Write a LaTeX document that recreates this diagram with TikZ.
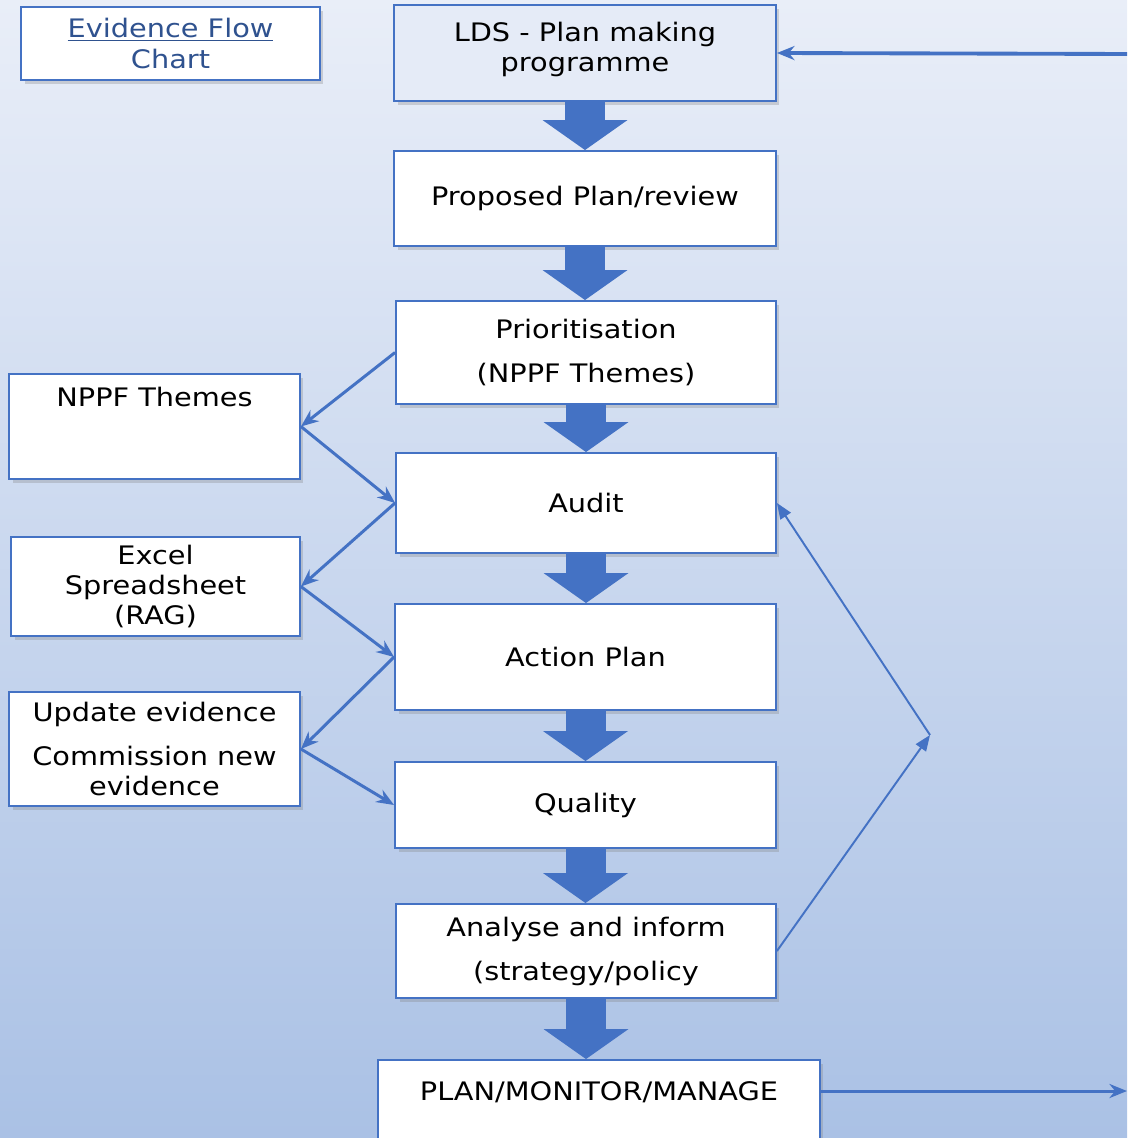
\documentclass[tikz,border=0pt]{standalone}
\usepackage{fontspec}
\setmainfont[FakeStretch=1.13]{DejaVu Sans}
\usetikzlibrary{arrows.meta,shadows}
\definecolor{boxblue}{RGB}{68,114,196}
\definecolor{bgtop}{RGB}{233,238,248}
\definecolor{bgbottom}{RGB}{170,193,229}
\definecolor{titleblue}{RGB}{47,82,143}
\definecolor{ldsfill}{RGB}{229,235,247}

\begin{document}
\begin{tikzpicture}[x=0.02cm, y=-0.02cm,
    every node/.style={font=\fontsize{14.5}{17}\selectfont},
    flowbox/.style={draw=boxblue, line width=1.1pt, fill=white, align=center, inner sep=2pt,
      drop shadow={shadow xshift=2pt, shadow yshift=-2pt, opacity=.3}},
    bigarrow/.style={draw=boxblue, line width=0.8cm, -{Triangle[width=1.7cm, length=0.6cm, line width=0pt]}},
    link/.style={draw=boxblue, line width=1.7pt, -{Stealth[length=10pt, width=8pt]}},
    feedback/.style={draw=boxblue, line width=1.1pt, -{Triangle[length=9pt, width=7pt]}}]
    \clip (0,0) rectangle (1127,1138);
    \shade[top color=bgtop, bottom color=bgbottom] (0,0) rectangle (1127,1138);

    % main column
    \node[flowbox, text=titleblue, minimum width=5.98cm, minimum height=1.46cm] (title) at (170.5,43.5) {\underline{Evidence Flow}\\[1pt]Chart};
    \node[flowbox, fill=ldsfill, minimum width=7.64cm, minimum height=1.92cm] (lds) at (585,53) {LDS - Plan making\\programme\\[-10pt]\mbox{}};
    \node[flowbox, minimum width=7.64cm, minimum height=1.9cm] (prop) at (585,198.5) {Proposed Plan/review};
    \node[flowbox, minimum width=7.6cm, minimum height=2.06cm] (prio) at (586,352.5) {Prioritisation\\[8pt](NPPF Themes)};
    \node[flowbox, minimum width=7.6cm, minimum height=2cm] (audit) at (586,503) {Audit};
    \node[flowbox, minimum width=7.62cm, minimum height=2.12cm] (act) at (585.5,657) {Action Plan};
    \node[flowbox, minimum width=7.62cm, minimum height=1.72cm] (qual) at (585.5,805) {Quality};
    \node[flowbox, minimum width=7.6cm, minimum height=1.88cm] (anal) at (586,951) {Analyse and inform\\[8pt](strategy/policy};
    \node[flowbox, minimum width=8.84cm, minimum height=1.84cm] (plan) at (599,1106) {PLAN/MONITOR/MANAGE\\\mbox{}};

    % evidence boxes
    \node[flowbox, minimum width=5.82cm, minimum height=2.1cm] (nppf) at (154.5,426.5) {NPPF Themes\\\mbox{}\\\mbox{}};
    \node[flowbox, minimum width=5.78cm, minimum height=1.98cm] (excel) at (155.5,586.5) {Excel\\Spreadsheet\\(RAG)};
    \node[flowbox, minimum width=5.82cm, minimum height=2.28cm] (upd) at (154.5,749) {Update evidence\\[8pt]Commission new\\evidence};

    \coordinate (fb) at (930,735);
    \coordinate (topin) at (1127,54);
    \coordinate (botout) at (1127,1091);

    \foreach \a/\b in {lds/prop, prop/prio, prio/audit, audit/act, act/qual, qual/anal, anal/plan}
      \draw[bigarrow] (\a.south) -- (\a.south |- \b.north);

    \draw[link] (prio.west) -- (nppf.east);
    \draw[link] (nppf.east) -- (audit.west);
    \draw[link] (audit.west) -- (excel.east);
    \draw[link] (excel.east) -- (act.west);
    \draw[link] (act.west) -- (upd.east);
    \draw[link] (upd.east) -- (qual.west);
    \draw[feedback] (anal.east) -- (fb);
    \draw[feedback] (fb) -- (audit.east);
    \draw[link, line width=2.2pt] (topin) -- (lds.east);
    \draw[link] (plan.east |- botout) -- (botout);
\end{tikzpicture}
\end{document}
